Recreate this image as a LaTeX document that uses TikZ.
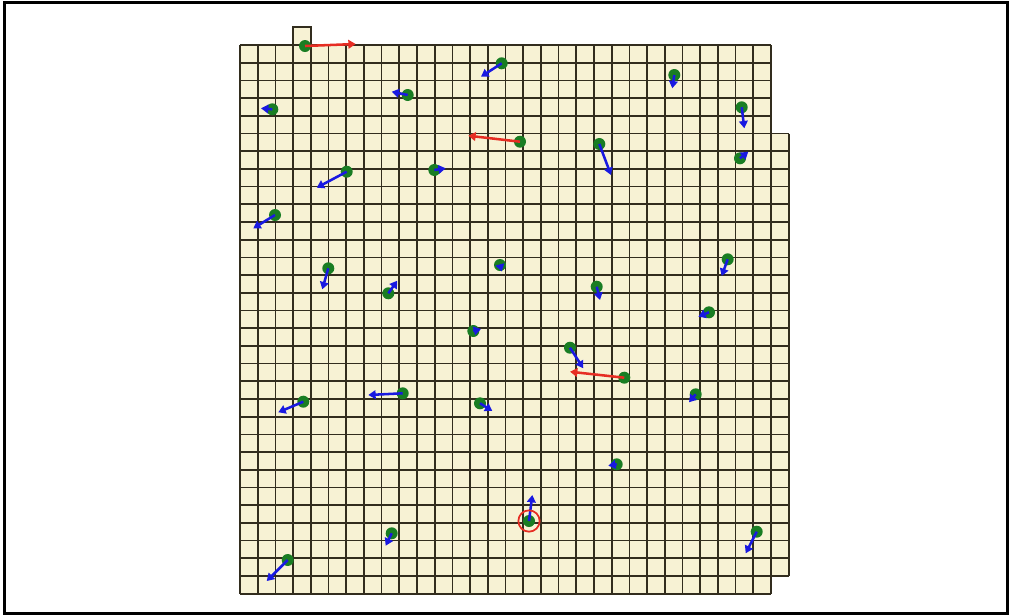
\documentclass[tikz,border=0pt]{standalone}
\usetikzlibrary{arrows.meta}
\definecolor{cellfill}{RGB}{247,242,212}
\definecolor{gridcol}{RGB}{50,45,30}
\definecolor{agentgreen}{RGB}{25,125,35}
\definecolor{velblue}{RGB}{25,25,225}
\definecolor{velred}{RGB}{230,45,35}
\begin{document}
\begin{tikzpicture}[x=0.75pt,y=-0.75pt,
  gridline/.style={draw=gridcol,line width=1.25pt},
  agent/.style={circle,fill=agentgreen,inner sep=0pt,minimum size=9pt},
  vel/.style={line width=1.9pt,-{Triangle[length=5.5pt,width=6.5pt]}},
  ring/.style={circle,draw=velred,line width=1.3pt,minimum size=16pt,inner sep=0pt},
  frame/.style={draw=black,line width=2.2pt}]
\useasboundingbox (0,0) rectangle (1011,615);
\def\s{17.7}
% frame
\draw[frame] (4.5,2.5) rectangle (1007.5,613.5);
% cell fills
\fill[cellfill] (240,45) rectangle (240+30*\s,45+31*\s);
\fill[cellfill] (240+30*\s,45+5*\s) rectangle (240+31*\s,45+30*\s);
\fill[cellfill] (240+3*\s,45-\s) rectangle (240+4*\s,45);
% grid lines: main block
\foreach \i in {0,...,30} \draw[gridline] (240+\i*\s,45) -- (240+\i*\s,45+31*\s);
\foreach \j in {0,...,31} \draw[gridline] (240,45+\j*\s) -- (240+30*\s,45+\j*\s);
% extra column on the right
\draw[gridline] (240+31*\s,45+5*\s) -- (240+31*\s,45+30*\s);
\foreach \j in {5,...,30} \draw[gridline] (240+30*\s,45+\j*\s) -- (240+31*\s,45+\j*\s);
% extra cell on top
\draw[gridline] (240+3*\s,45) -- (240+3*\s,45-\s) -- (240+4*\s,45-\s) -- (240+4*\s,45);
% agents
\foreach \n/\px/\py/\tx/\ty/\col in {
  1/305/46/355.7/44/velred,
  2/501.7/63.3/481/76.7/velblue,
  3/407.7/95/391.7/91.7/velblue,
  4/272.3/109.3/261/108.3/velblue,
  5/674.3/75/672.3/88.3/velblue,
  6/741.7/107.3/744.3/128.3/velblue,
  7/520/141.7/468.3/135.7/velred,
  8/599.3/144/611/175/velblue,
  9/346.7/171.7/316.7/187.7/velblue,
  10/434.3/170/445.7/168.3/velblue,
  11/740/158.3/748.3/151.7/velblue,
  12/275/215/253.3/228.3/velblue,
  13/727.7/259.3/721.7/276/velblue,
  14/328.3/268.3/322.3/289.3/velblue,
  15/500/265/501.7/271.5/velblue,
  16/388.3/293.3/397.3/280.7/velblue,
  17/596.7/286.7/600/300/velblue,
  18/709/312.3/698.3/316.7/velblue,
  19/473.3/331/481/329/velblue,
  20/570/347.7/583.3/368.3/velblue,
  21/624.3/377.7/570/371.7/velred,
  22/402.7/393.3/368.3/395/velblue,
  23/303.3/401.7/278.3/412.3/velblue,
  24/480/403.3/492.3/411/velblue,
  25/695.7/394.3/689/402.3/velblue,
  26/616.7/464.3/608.3/465.7/velblue,
  27/529/521/532.3/495/velblue,
  28/391.7/533.3/385.7/545.7/velblue,
  29/756.7/531.7/745.7/553.3/velblue,
  30/287.7/560/266.7/581/velblue}{
  \node[agent] (a\n) at (\px,\py) {};
  \coordinate (v\n) at (\tx,\ty);
  \draw[vel,color=\col] (a\n.center) -- (v\n);
}
\node[ring] (r27) at (a27) {};
\end{tikzpicture}
\end{document}
